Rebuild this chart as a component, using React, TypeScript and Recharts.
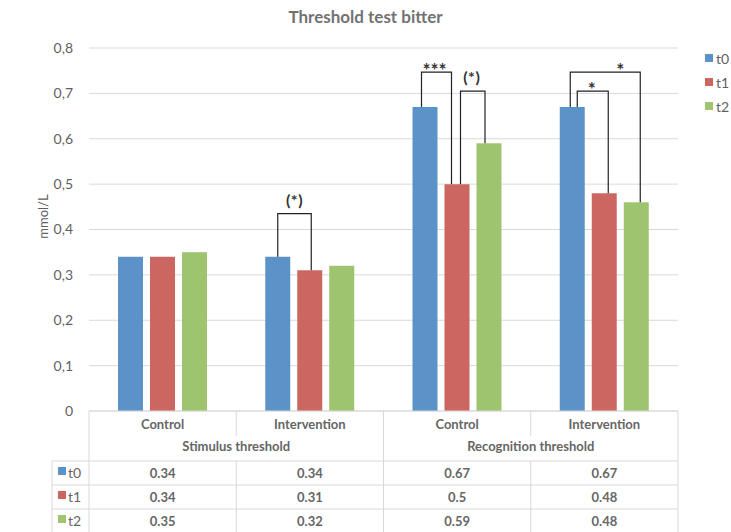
import React from "react"
import { BarChart, Bar, XAxis, YAxis, CartesianGrid } from "recharts"

document.body.style.margin = "0"

const categories = ["Control", "Intervention", "Control", "Intervention"]
const groups = ["Stimulus threshold", "Recognition threshold"]
const seriesNames = ["t0", "t1", "t2"]
const t0 = [0.34, 0.34, 0.67, 0.67]
const t1 = [0.34, 0.31, 0.5, 0.48]
const t2 = [0.35, 0.32, 0.59, 0.46]
const tableRows = [
  ["0.34", "0.34", "0.67", "0.67"],
  ["0.34", "0.31", "0.5", "0.48"],
  ["0.35", "0.32", "0.59", "0.48"],
]
const yTicks = [0, 0.1, 0.2, 0.3, 0.4, 0.5, 0.6, 0.7, 0.8]

// significance brackets: category, from series, to series, height of the bracket (mmol/L)
const brackets = [
  { cat: 1, from: 0, to: 1, top: 0.435, label: "(*)", dxFrom: 0, dxTo: 1.5, labelDx: 0 },
  { cat: 2, from: 0, to: 1, top: 0.747, label: "***", dxFrom: -3.5, dxTo: -5.5, labelDx: -2 },
  { cat: 2, from: 1, to: 2, top: 0.705, label: "(*)", dxFrom: 3.5, dxTo: -4, labelDx: -1 },
  { cat: 3, from: 0, to: 2, top: 0.747, label: "*", dxFrom: -2, dxTo: 4, labelDx: 15 },
  { cat: 3, from: 0, to: 1, top: 0.705, label: "*", dxFrom: 5, dxTo: 4, labelDx: -1 },
]

const colors = ["#5b93c9", "#cc6661", "#9fc46f"]
const FONT = "Lato, 'Open Sans', sans-serif"
const TEXT = "#5f5f5f"
const LINE = "#d9d9d9"
const BAR_SIZE = 25
const BAR_GAP = 7

const data = categories.map((c, i) => ({ category: c, t0: t0[i], t1: t1[i], t2: t2[i] }))

// last bar of each group also draws the significance brackets above the group
const BarWithBrackets = (props: any) => {
  const { x, y, width, height, fill, index } = props
  const value = t2[index]
  const bottom = y + height
  const perUnit = height / value
  const cx2 = x + width / 2
  const cxOf = (s: number) => cx2 - (2 - s) * (width + BAR_GAP)
  const vals = [t0[index], t1[index], t2[index]]
  const yOf = (v: number) => bottom - v * perUnit
  return (
    <g>
      <rect x={x} y={y} width={width} height={height} fill={fill} />
      {brackets
        .filter((b) => b.cat === index)
        .map((b, k) => {
          const xa = cxOf(b.from) + b.dxFrom
          const xb = cxOf(b.to) + b.dxTo
          const yt = yOf(b.top)
          const paren = b.label.startsWith("(")
          return (
            <g key={k}>
              <polyline
                points={`${xa},${yOf(vals[b.from])} ${xa},${yt} ${xb},${yt} ${xb},${yOf(vals[b.to])}`}
                fill="none"
                stroke="#222"
                strokeWidth={1.2}
              />
              <text
                x={(xa + xb) / 2 + b.labelDx}
                y={paren ? yt - 8 : yt + 5}
                textAnchor="middle"
                fontFamily={FONT}
                fontWeight="bold"
                fontSize={paren ? 16 : 19}
                letterSpacing={paren ? 0.5 : 0}
                fill="#333"
              >
                {b.label}
              </text>
            </g>
          )
        })}
    </g>
  )
}

const TableTick = (props: any) => {
  const { x, y, payload } = props
  const i = payload.index
  const band = (props.width || 589) / categories.length
  const left = x - band / 2
  const right = x + band / 2
  const rowY = [50, 74, 98]
  const txt = { fontFamily: FONT, fontSize: 13, fontWeight: "bold" as const, fill: "#666", textAnchor: "middle" as const }
  return (
    <g>
      <text {...txt} x={x} y={y + 18}>{categories[i]}</text>
      {i % 2 === 0 && (
        <text {...txt} x={right} y={y + 40}>{groups[i / 2]}</text>
      )}
      {(i === 1 || i === 3) && <line x1={left} x2={left} y1={y} y2={y + 25} stroke={LINE} />}
      {(i === 1 || i === 3) && <line x1={left} x2={left} y1={y + 50} y2={y + 125} stroke={LINE} />}
      {(i === 0 || i === 2) && <line x1={left} x2={left} y1={y} y2={y + 125} stroke={LINE} />}
      {i === 3 && <line x1={right} x2={right} y1={y} y2={y + 125} stroke={LINE} />}
      {rowY.map((r) => (
        <line key={r} x1={i === 0 ? left - 37 : left} x2={right} y1={y + r} y2={y + r} stroke={LINE} />
      ))}
      {tableRows.map((row, k) => (
        <text key={k} {...txt} x={x} y={y + rowY[k] + 17}>{row[i]}</text>
      ))}
      {i === 0 && (
        <g>
          <line x1={left - 37} x2={left - 37} y1={y + 50} y2={y + 125} stroke={LINE} />
          {seriesNames.map((s, k) => (
            <g key={s}>
              <rect x={left - 31} y={y + rowY[k] + 6} width={8} height={8} fill={colors[k]} />
              <text x={left - 21} y={y + rowY[k] + 17} fontFamily={FONT} fontSize={14} fill="#666">{s}</text>
            </g>
          ))}
        </g>
      )}
    </g>
  )
}

const YLabel = (props: any) => {
  const { viewBox } = props
  const cx = viewBox.x + 4
  const cy = viewBox.y + viewBox.height / 2 - 13
  return (
    <text x={cx} y={cy} transform={`rotate(-90 ${cx} ${cy})`} textAnchor="middle" dominantBaseline="central"
      fontFamily={FONT} fontSize={13} fill={TEXT}>
      mmol/L
    </text>
  )
}

export default function App() {
  return (
    <div style={{ position: "relative", width: 731, height: 532, background: "#fff", overflow: "hidden" }}>
      <div style={{ position: "absolute", top: 6, left: 0, width: 731, textAlign: "center", fontFamily: FONT, fontWeight: "bold", fontSize: 17, color: "#727272" }}>
        Threshold test bitter
      </div>
      <BarChart
        width={731}
        height={532}
        data={data}
        margin={{ top: 48, right: 53, bottom: 0, left: 39 }}
        barSize={BAR_SIZE}
        barGap={BAR_GAP}
      >
        <CartesianGrid vertical={false} stroke={LINE} />
        <XAxis
          dataKey="category"
          height={121}
          axisLine={{ stroke: LINE }}
          tickLine={false}
          tickSize={0}
          tickMargin={0}
          interval={0}
          tick={<TableTick />}
        />
        <YAxis
          width={50}
          domain={[0, 0.8]}
          ticks={yTicks}
          axisLine={false}
          tickLine={false}
          tickSize={0}
          tickMargin={16}
          tick={{ fill: TEXT, fontSize: 14, fontFamily: FONT }}
          tickFormatter={(v: number) => String(v).replace(".", ",")}
          label={<YLabel />}
        />
        <Bar dataKey="t0" fill={colors[0]} isAnimationActive={false} />
        <Bar dataKey="t1" fill={colors[1]} isAnimationActive={false} />
        <Bar dataKey="t2" fill={colors[2]} isAnimationActive={false} shape={<BarWithBrackets />} />
      </BarChart>
      <div style={{ position: "absolute", left: 705, top: 46, fontFamily: FONT, fontSize: 14, color: TEXT }}>
        {seriesNames.map((s, k) => (
          <div key={s} style={{ display: "flex", alignItems: "center", height: 24 }}>
            <span style={{ display: "inline-block", width: 8, height: 8, background: colors[k], marginRight: 3 }} />
            {s}
          </div>
        ))}
      </div>
    </div>
  )
}
